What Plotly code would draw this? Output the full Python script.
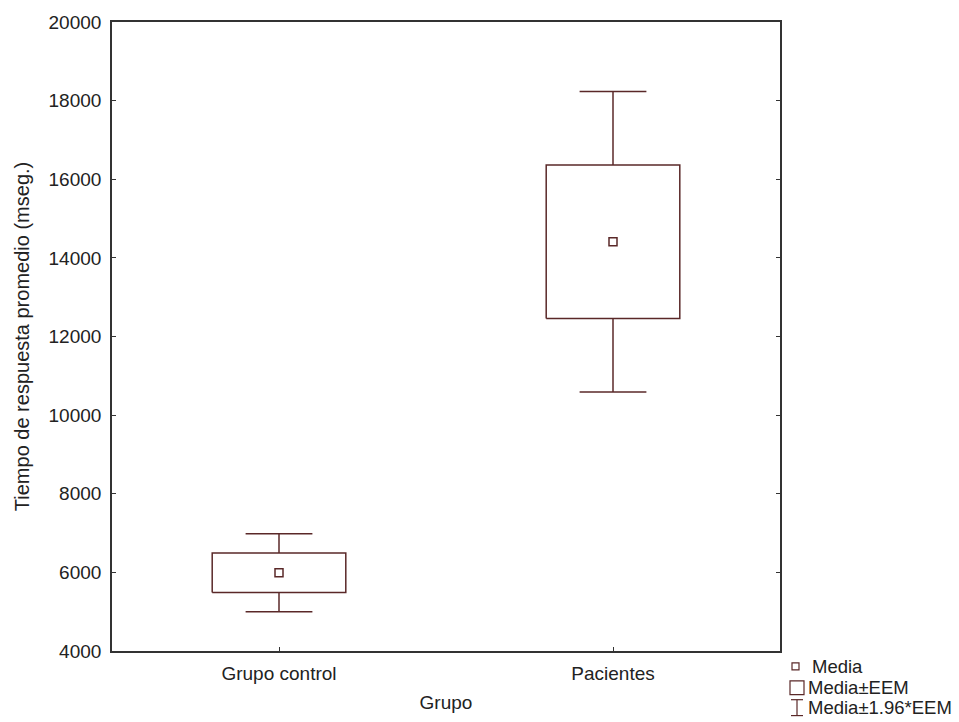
import plotly.graph_objects as go

# Group summary statistics: mean and standard error of the mean (EEM)
grupos = ["Grupo control", "Pacientes"]
media = [5990, 14410]
eem = [505, 1950]
factor_ic = 1.96

y_ticks = [4000, 6000, 8000, 10000, 12000, 14000, 16000, 18000, 20000]
y_ticktext = [str(v) for v in y_ticks]

COLOR = "#5a2828"
AXIS = "#333333"
TEXT = "#222222"
FONT = "Liberation Sans, Arial, sans-serif"

W, H = 959, 722
ML, MR, MT, MB = 112, 179, 20, 69

box_half = 0.2
cap_half = 0.1

fig = go.Figure()

for i, (g, m, e) in enumerate(zip(grupos, media, eem)):
    lo_box, hi_box = m - e, m + e
    lo_w, hi_w = m - factor_ic * e, m + factor_ic * e
    # Box: mean ± EEM
    fig.add_trace(go.Scatter(
        x=[i - box_half, i + box_half, i + box_half, i - box_half, i - box_half],
        y=[lo_box, lo_box, hi_box, hi_box, lo_box],
        mode="lines", line=dict(color=COLOR, width=1.5),
        hoverinfo="skip", showlegend=False))
    # Whiskers: mean ± 1.96*EEM
    fig.add_trace(go.Scatter(
        x=[i, i, None, i, i, None, i - cap_half, i + cap_half, None, i - cap_half, i + cap_half],
        y=[hi_box, hi_w, None, lo_box, lo_w, None, hi_w, hi_w, None, lo_w, lo_w],
        mode="lines", line=dict(color=COLOR, width=1.5),
        hoverinfo="skip", showlegend=False))
    # Mean marker
    fig.add_trace(go.Scatter(
        x=[i], y=[m], mode="markers",
        marker=dict(symbol="square-open", size=8, color=COLOR, line=dict(width=1.5)),
        hoverinfo="skip", showlegend=False))

fig.update_layout(
    width=W, height=H,
    margin=dict(l=ML, r=MR, t=MT, b=MB),
    paper_bgcolor="white", plot_bgcolor="white",
    font=dict(family=FONT, size=20, color=TEXT),
    xaxis=dict(
        range=[-0.5, 1.5], tickmode="array", tickvals=[0, 1], ticktext=grupos,
        ticks="inside", ticklen=4, tickcolor=AXIS, showgrid=False, zeroline=False,
        showline=True, linecolor=AXIS, linewidth=1.6, mirror=True,
        tickfont=dict(size=19), ticklabelstandoff=4,
        title=dict(text="Grupo", standoff=13, font=dict(size=19)),
    ),
    yaxis=dict(
        range=[4000, 20000], tickmode="array", tickvals=y_ticks, ticktext=y_ticktext,
        ticks="inside", ticklen=4, tickcolor=AXIS, showgrid=False, zeroline=False,
        showline=True, linecolor=AXIS, linewidth=1.6, mirror="ticks",
        tickfont=dict(size=19), ticklabelstandoff=5,
        title=dict(text="Tiempo de respuesta promedio (mseg.)", standoff=14,
                   font=dict(size=20)),
    ),
)

# Convert page pixels to paper coordinates of the plotting area
PW, PH = W - ML - MR, H - MT - MB
def px_x(p):
    return (p - ML) / PW
def px_y(p):
    return (H - MB - p) / PH

# Key explaining the symbols, placed below-right of the plot frame
fig.add_shape(type="rect", xref="paper", yref="paper",
              x0=px_x(792), x1=px_x(799), y0=px_y(672), y1=px_y(665),
              line=dict(color=COLOR, width=1.2))
fig.add_shape(type="rect", xref="paper", yref="paper",
              x0=px_x(790), x1=px_x(804), y0=px_y(697), y1=px_y(683),
              line=dict(color=COLOR, width=1.2))
for (xa, ya), (xb, yb) in [((791, 702), (803, 702)), ((797, 702), (797, 718)),
                           ((791, 718), (803, 718))]:
    fig.add_shape(type="line", xref="paper", yref="paper",
                  x0=px_x(xa), y0=px_y(ya), x1=px_x(xb), y1=px_y(yb),
                  line=dict(color=COLOR, width=1.2))

for txt, xp, yp in [("Media", 810, 669), ("Media±EEM", 806, 690),
                    ("Media±1.96*EEM", 806, 710)]:
    fig.add_annotation(text=txt, xref="paper", yref="paper",
                       x=px_x(xp), y=px_y(yp), xanchor="left", yanchor="middle",
                       showarrow=False, font=dict(size=18.5, color=TEXT))

fig.write_html("out.html")
